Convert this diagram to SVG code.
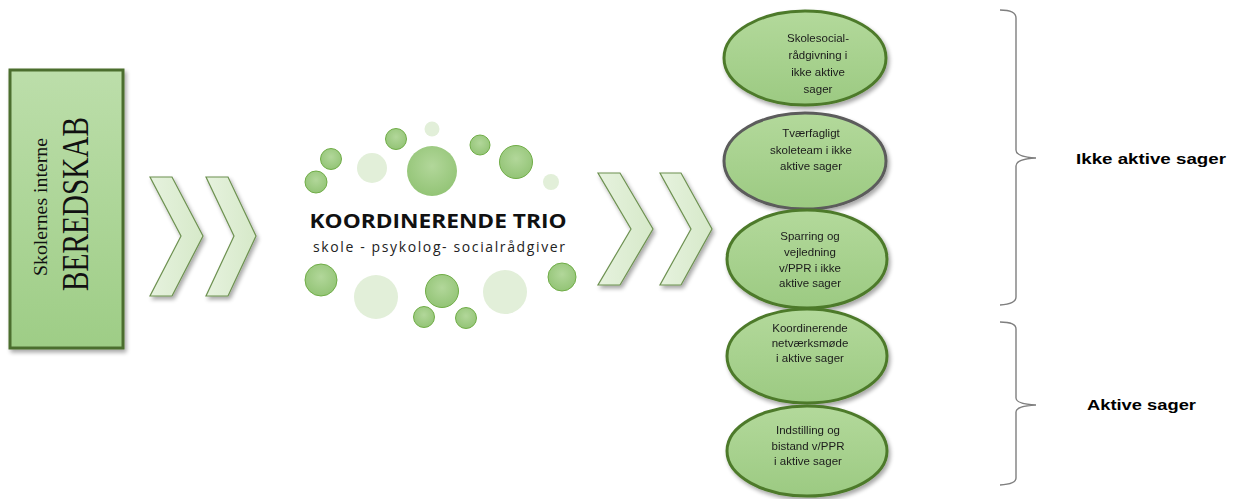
<svg xmlns="http://www.w3.org/2000/svg" width="1236" height="499" viewBox="0 0 1236 499">
<defs>
<linearGradient id="gRect" x1="0" y1="0" x2="0" y2="1"><stop offset="0" stop-color="#bcdeaa"/><stop offset="1" stop-color="#9ecd86"/></linearGradient>
<linearGradient id="gEll" x1="0" y1="0" x2="0" y2="1"><stop offset="0" stop-color="#b3d99b"/><stop offset="1" stop-color="#9cca82"/></linearGradient>
<linearGradient id="gChev" x1="0" y1="0" x2="1" y2="0"><stop offset="0" stop-color="#e6f2de"/><stop offset="1" stop-color="#d6e9c9"/></linearGradient>
<radialGradient id="gDot" cx="0.5" cy="0.4" r="0.6"><stop offset="0" stop-color="#b2d79a"/><stop offset="1" stop-color="#93c476"/></radialGradient>
<filter id="sh" x="-20%" y="-20%" width="150%" height="150%"><feGaussianBlur in="SourceAlpha" stdDeviation="2"/><feOffset dx="2" dy="3"/><feComponentTransfer><feFuncA type="linear" slope="0.35"/></feComponentTransfer><feMerge><feMergeNode/><feMergeNode in="SourceGraphic"/></feMerge></filter>
</defs>
<style>
.chev{fill:url(#gChev);stroke:#6d9150;stroke-width:1.2;stroke-linejoin:miter}
.ell{fill:url(#gEll);stroke:#4d7a2b;stroke-width:3}
.ell2{fill:url(#gEll);stroke:#5b5b5b;stroke-width:3}
.et{font-family:"Liberation Sans",Arial,sans-serif;font-size:11.5px;fill:#1b1b1b;text-anchor:middle}
.dot{fill:url(#gDot);stroke:#70ad47;stroke-width:1}
.ldot{fill:#e2efd9}
.brace{fill:none;stroke:#7f7f7f;stroke-width:1.4}
.lab{font-family:"Liberation Sans",Arial,sans-serif;font-size:15px;font-weight:bold;fill:#000}
</style>

<g id="beredskab">
<rect x="10" y="70" width="113" height="278" fill="url(#gRect)" stroke="#4c6e2e" stroke-width="3" filter="url(#sh)"/>
<text transform="translate(47,207) rotate(-90)" text-anchor="middle" font-family="Liberation Serif,'Times New Roman',serif" font-size="19" fill="#111" textLength="138" lengthAdjust="spacingAndGlyphs">Skolernes interne</text>
<text transform="translate(88,204) rotate(-90)" text-anchor="middle" font-family="Liberation Serif,'Times New Roman',serif" font-size="38" fill="#111" textLength="174" lengthAdjust="spacingAndGlyphs">BEREDSKAB</text>
</g>

<g id="connectors" filter="url(#sh)">
<path class="chev" d="M150,177 L172,177 L203,236 L172,296 L150,296 L181,236 Z"/>
<path class="chev" d="M206,177 L228,177 L256,236 L228,296 L206,296 L234,236 Z"/>
<path class="chev" d="M598,173 L620,173 L653,229 L620,285 L598,285 L631,229 Z"/>
<path class="chev" d="M660,173 L681,173 L712,229 L681,285 L660,285 L691,229 Z"/>
</g>

<g id="trio">
<circle class="ldot" cx="432" cy="129" r="7.5"/>
<circle class="dot" cx="396" cy="139" r="10.5"/>
<circle class="dot" cx="480" cy="145" r="10"/>
<circle class="dot" cx="331" cy="159" r="10.5"/>
<circle class="ldot" cx="372" cy="168" r="15"/>
<circle class="dot" cx="432" cy="171" r="25" style="stroke:none"/>
<circle class="dot" cx="516" cy="162" r="16.5"/>
<circle class="dot" cx="316" cy="182" r="11"/>
<circle class="ldot" cx="551" cy="182" r="8"/>
<circle class="dot" cx="321" cy="280" r="16"/>
<circle class="ldot" cx="376" cy="297" r="22"/>
<circle class="dot" cx="442" cy="291" r="16.5"/>
<circle class="ldot" cx="505" cy="292" r="22"/>
<circle class="dot" cx="562" cy="277" r="14"/>
<circle class="dot" cx="424" cy="317" r="10.5"/>
<circle class="dot" cx="466" cy="318" r="10.5"/>
<text x="438" y="228" text-anchor="middle" font-family="'Open Sans','Liberation Sans',sans-serif" font-size="19" font-weight="bold" fill="#111" textLength="257" lengthAdjust="spacingAndGlyphs">KOORDINERENDE TRIO</text>
<text x="439" y="252" text-anchor="middle" font-family="'Open Sans','Liberation Sans',sans-serif" font-size="14" fill="#222" textLength="252" lengthAdjust="spacing">skole - psykolog- socialrådgiver</text>
</g>

<g id="e1" filter="url(#sh)">
<ellipse class="ell" cx="805" cy="58" rx="81" ry="47"/>
<text class="et" x="818" y="42">Skolesocial-</text>
<text class="et" x="818" y="59">rådgivning i</text>
<text class="et" x="818" y="76">ikke aktive</text>
<text class="et" x="818" y="93">sager</text>
</g>
<g id="e2" filter="url(#sh)">
<ellipse class="ell2" cx="805" cy="161" rx="81" ry="48"/>
<text class="et" x="811" y="137">Tværfagligt</text>
<text class="et" x="811" y="154">skoleteam i ikke</text>
<text class="et" x="811" y="170">aktive sager</text>
</g>
<g id="e3" filter="url(#sh)">
<ellipse class="ell" cx="807" cy="259" rx="80" ry="49"/>
<text class="et" x="810" y="240">Sparring og</text>
<text class="et" x="810" y="256">vejledning</text>
<text class="et" x="810" y="272">v/PPR i ikke</text>
<text class="et" x="810" y="287">aktive sager</text>
</g>
<g id="e4" filter="url(#sh)">
<ellipse class="ell" cx="807" cy="356" rx="80" ry="47"/>
<text class="et" x="810" y="332">Koordinerende</text>
<text class="et" x="810" y="347">netværksmøde</text>
<text class="et" x="810" y="362">i aktive sager</text>
</g>
<g id="e5" filter="url(#sh)">
<ellipse class="ell" cx="807" cy="451" rx="80" ry="45"/>
<text class="et" x="808" y="434">Indstilling og</text>
<text class="et" x="808" y="450">bistand v/PPR</text>
<text class="et" x="808" y="465">i aktive sager</text>
</g>

<g id="brace1">
<path class="brace" d="M1000,10 Q1016,10 1016,18 L1016,150 Q1016,157 1036,158 Q1016,159 1016,166 L1016,297 Q1016,304 1000,305"/>
<text class="lab" x="1076" y="164" textLength="150" lengthAdjust="spacingAndGlyphs">Ikke aktive sager</text>
</g>
<g id="brace2">
<path class="brace" d="M1000,322 Q1016,322 1016,329 L1016,398 Q1016,404 1036,405 Q1016,406 1016,412 L1016,478 Q1016,484 1000,485"/>
<text class="lab" x="1087" y="410" textLength="109" lengthAdjust="spacingAndGlyphs">Aktive sager</text>
</g>
</svg>
